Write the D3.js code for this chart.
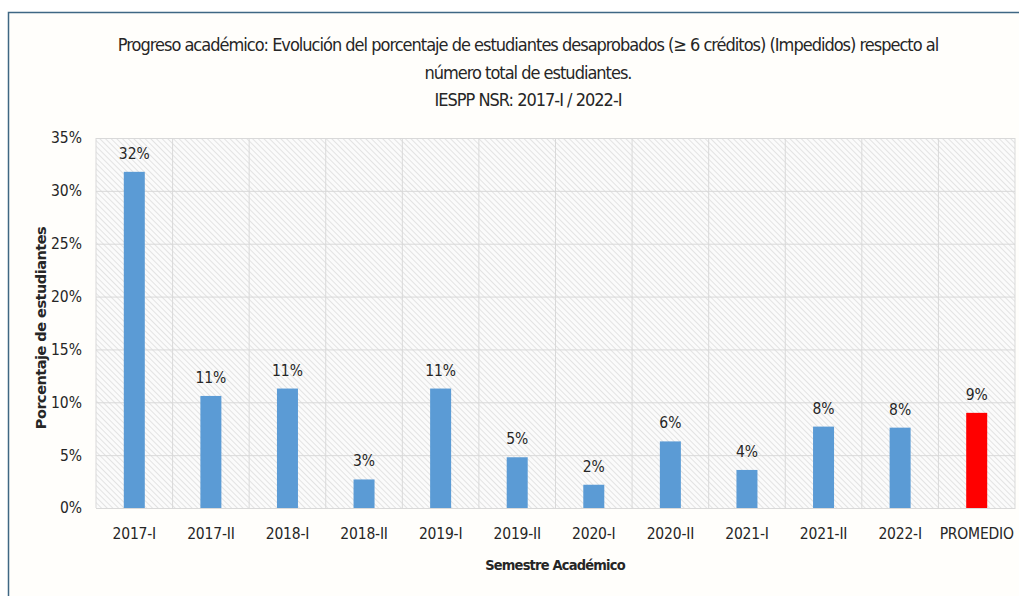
<!DOCTYPE html>
<html>
<head>
<meta charset="utf-8">
<script src="https://cdn.jsdelivr.net/npm/d3@7"></script>
<style>
  html, body { margin: 0; padding: 0; background: #ffffff; }
  svg { display: block; }
  text { font-family: "Liberation Sans Narrow", "DejaVu Sans Condensed", "Liberation Sans", sans-serif; fill: #262626; }
</style>
</head>
<body>
<svg id="chart" width="1019" height="596"></svg>
<script>
// Semesters and share of students with ≥ 6 failed credits (percent)
const semesters = ["2017-I", "2017-II", "2018-I", "2018-II", "2019-I", "2019-II",
                   "2020-I", "2020-II", "2021-I", "2021-II", "2022-I", "PROMEDIO"];
const percentages = [31.8, 10.6, 11.3, 2.7, 11.3, 4.8, 2.2, 6.3, 3.6, 7.7, 7.6, 9.0];
const yTicks = [0, 5, 10, 15, 20, 25, 30, 35];
const titleLines = [
  "Progreso académico: Evolución del porcentaje de estudiantes desaprobados (≥ 6 créditos) (Impedidos) respecto al",
  "número total de estudiantes.",
  "IESPP NSR: 2017-I / 2022-I"
];
const xTitle = "Semestre Académico";
const yTitle = "Porcentaje de estudiantes";

const svg = d3.select("#chart");
const W = 1019, H = 596;
const plot = { left: 96, right: 1015, top: 138, bottom: 508 };

// outer chart frame
svg.append("rect")
  .attr("x", 8.5).attr("y", 12.5)
  .attr("width", W + 20).attr("height", H + 20)
  .attr("fill", "#fffefb")
  .attr("stroke", "#3f6784").attr("stroke-width", 1.5);

// diagonal hatch fill for the plot area
const defs = svg.append("defs");
const pat = defs.append("pattern")
  .attr("id", "hatch")
  .attr("patternUnits", "userSpaceOnUse")
  .attr("width", 4).attr("height", 4)
  .attr("patternTransform", "rotate(-45)");
pat.append("rect").attr("width", 4).attr("height", 4).attr("fill", "#fbfbfb");
pat.append("line").attr("x1", 0).attr("y1", 0).attr("x2", 0).attr("y2", 4)
  .attr("stroke", "#d6d6d6").attr("stroke-width", 1.3);

const x = d3.scaleBand().domain(semesters).range([plot.left, plot.right]).paddingInner(0).paddingOuter(0);
const y = d3.scaleLinear().domain([0, 35]).range([plot.bottom, plot.top]);

svg.append("rect")
  .attr("x", plot.left).attr("y", plot.top)
  .attr("width", plot.right - plot.left).attr("height", plot.bottom - plot.top)
  .attr("fill", "url(#hatch)");

// horizontal gridlines
svg.append("g")
  .attr("transform", `translate(${plot.left},0)`)
  .call(d3.axisLeft(y).tickValues(yTicks).tickSize(-(plot.right - plot.left)).tickFormat(""))
  .call(g => g.select(".domain").remove())
  .call(g => g.selectAll("line").attr("stroke", "#d9d9d9").attr("stroke-width", 1));

// vertical separators between semesters
svg.append("g")
  .selectAll("line")
  .data(semesters)
  .join("line")
  .attr("x1", d => x(d) + x.bandwidth()).attr("x2", d => x(d) + x.bandwidth())
  .attr("y1", plot.top).attr("y2", plot.bottom)
  .attr("stroke", "#d9d9d9");
svg.append("line")
  .attr("x1", plot.left).attr("x2", plot.left)
  .attr("y1", plot.top).attr("y2", plot.bottom)
  .attr("stroke", "#d9d9d9");

// y tick labels
svg.append("g")
  .attr("transform", `translate(${plot.left},0)`)
  .call(d3.axisLeft(y).tickValues(yTicks).tickSize(0).tickPadding(14).tickFormat(d => d + "%"))
  .call(g => g.select(".domain").remove())
  .call(g => g.selectAll("text")
    .attr("font-size", 15.5)
    .style("font-family", '"Liberation Sans Narrow", "DejaVu Sans Condensed", sans-serif')
    .attr("fill", "#262626"));

// x tick labels
svg.append("g")
  .attr("transform", `translate(0,${plot.bottom})`)
  .call(d3.axisBottom(x).tickSize(0).tickPadding(20))
  .call(g => g.select(".domain").attr("stroke", "#d9d9d9"))
  .call(g => g.selectAll("text")
    .attr("font-size", 15.5)
    .attr("letter-spacing", -0.2)
    .style("font-family", '"Liberation Sans Narrow", "DejaVu Sans Condensed", sans-serif')
    .attr("fill", "#262626"));

// bars
const barW = 21;
const data = semesters.map((s, i) => ({ s, v: percentages[i] }));
svg.append("g")
  .selectAll("rect")
  .data(data)
  .join("rect")
  .attr("x", d => x(d.s) + x.bandwidth() / 2 - barW / 2)
  .attr("width", barW)
  .attr("y", d => y(d.v))
  .attr("height", d => y(0) - y(d.v))
  .attr("fill", d => d.s === "PROMEDIO" ? "#ff0000" : "#5b9bd5");

// value labels
svg.append("g")
  .selectAll("text")
  .data(data)
  .join("text")
  .attr("x", d => x(d.s) + x.bandwidth() / 2)
  .attr("y", d => y(d.v) - 13)
  .attr("text-anchor", "middle")
  .attr("font-size", 15.5)
  .text(d => Math.round(d.v) + "%");

// title
svg.append("g")
  .selectAll("text")
  .data(titleLines)
  .join("text")
  .attr("x", 528)
  .attr("y", (d, i) => 51 + i * 27.5)
  .attr("text-anchor", "middle")
  .attr("font-size", 18)
  .attr("letter-spacing", -1.0)
  .attr("fill", "#111111")
  .text(d => d);

// axis titles
svg.append("text")
  .attr("x", 555).attr("y", 570)
  .attr("text-anchor", "middle")
  .attr("font-size", 14.5).attr("font-weight", "bold")
  .attr("letter-spacing", -0.8)
  .text(xTitle);

svg.append("text")
  .attr("transform", "translate(46,328) rotate(-90)")
  .attr("text-anchor", "middle")
  .attr("font-size", 14.5).attr("font-weight", "bold")
  .style("font-family", '"DejaVu Sans", sans-serif')
  .attr("letter-spacing", -0.5)
  .text(yTitle);
</script>
</body>
</html>
